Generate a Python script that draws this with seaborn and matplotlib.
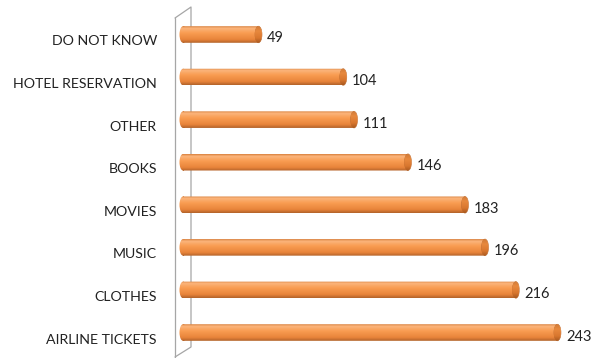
import matplotlib
matplotlib.use('Agg')
import matplotlib.pyplot as plt
import seaborn as sns
import numpy as np
import pandas as pd
from matplotlib.patches import Ellipse
from matplotlib.lines import Line2D
from matplotlib.path import Path
from matplotlib.colors import LinearSegmentedColormap
import matplotlib.transforms as mtransforms

categories = ["DO NOT KNOW", "HOTEL RESERVATION", "OTHER", "BOOKS",
              "MOVIES", "MUSIC", "CLOTHES", "AIRLINE TICKETS"]
values = [49, 104, 111, 146, 183, 196, 216, 243]

sns.set_theme(style='white')
plt.rcParams['font.family'] = ['Lato', 'DejaVu Sans']

W, H = 603, 358
PXU = 1.541  # pixels per unit
fig = plt.figure(figsize=(W / 100, H / 100), dpi=100)
ax = fig.add_axes([175 / W, (H - 353.8) / H, 428 / W, 340.6 / H])

df = pd.DataFrame({'category': categories, 'value': values})
sns.barplot(data=df, x='value', y='category', orient='h', color='#F79646',
            width=0.39, saturation=1, ax=ax, zorder=2)

xmin, xmax = -8 / PXU, (603 - 183) / PXU
ax.set_xlim(xmin, xmax)
ax.set_ylim(7.5, -0.5)

body = LinearSegmentedColormap.from_list('body', [
    (0.0, '#D9803C'), (0.12, '#FBB57C'), (0.4, '#F99D52'),
    (0.8, '#E8843A'), (1.0, '#B2622A')])
capc = LinearSegmentedColormap.from_list('cap', [
    (0.0, '#D07A38'), (0.3, '#E8893E'), (0.7, '#D9772F'), (1.0, '#A9591F')])
grad = np.linspace(0, 1, 64).reshape(-1, 1)

capw = 7 / PXU
for p in list(ax.patches):
    x0, y0, w, h = p.get_x(), p.get_y(), p.get_width(), p.get_height()
    yc = y0 + h / 2
    p.set_facecolor('none')
    p.set_edgecolor('none')
    im = ax.imshow(grad, cmap=body, aspect='auto', extent=(x0 - capw, x0 + w, y0 + h, y0),
                   zorder=2, interpolation='bilinear')
    left = Ellipse((x0, yc), capw, h, facecolor='none', edgecolor='none')
    ax.add_patch(left)
    rect_path = p.get_path().transformed(p.get_patch_transform())
    ell_path = left.get_path().transformed(left.get_patch_transform())
    rcodes = rect_path.codes if rect_path.codes is not None else \
        [Path.MOVETO] + [Path.LINETO] * (len(rect_path.vertices) - 2) + [Path.CLOSEPOLY]
    union = Path(np.concatenate([rect_path.vertices, ell_path.vertices]),
                 np.concatenate([rcodes, ell_path.codes]))
    im.set_clip_path(union, ax.transData)
    right = Ellipse((x0 + w, yc), capw, h, facecolor='none', edgecolor='#B8652A', linewidth=0.4, zorder=3)
    ax.add_patch(right)
    im2 = ax.imshow(grad, cmap=capc, aspect='auto',
                    extent=(x0 + w - capw / 2, x0 + w + capw / 2, y0 + h, y0),
                    zorder=3, interpolation='bilinear')
    im2.set_clip_path(right)

ax.set_xlim(xmin, xmax)
ax.set_ylim(7.5, -0.5)

for s in ax.spines.values():
    s.set_visible(False)
ax.set_xticks([])
ax.set_yticks([])
ax.set_xlabel('')
ax.set_ylabel('')


def fpt(x, y):
    return (x / W, 1 - y / H)


back = Line2D(*zip(fpt(175, 18), fpt(191, 7), fpt(191, 347), fpt(175, 357)),
              transform=fig.transFigure, color='#A6A6A6', lw=0.9, zorder=1, clip_on=False)
ax.add_line(back)
front = Line2D(*zip(fpt(175, 18), fpt(175, 357)),
               transform=fig.transFigure, color='#A6A6A6', lw=0.9, zorder=4, clip_on=False)
ax.add_line(front)

lab_tr = ax.get_yaxis_transform() + mtransforms.ScaledTranslation(-18 / 100, -7 / 100, fig.dpi_scale_trans)
for i, c in enumerate(categories):
    ax.text(0, i, c, transform=lab_tr, ha='right', va='center', fontsize=10.2, color='#222222')

val_tr = ax.transData + mtransforms.ScaledTranslation(8.5 / 100, -4 / 100, fig.dpi_scale_trans)
for i, v in enumerate(values):
    ax.text(v, i, str(v), transform=val_tr, ha='left', va='center', fontsize=10.5, color='#222222')

fig.savefig('out.png', dpi=100)
